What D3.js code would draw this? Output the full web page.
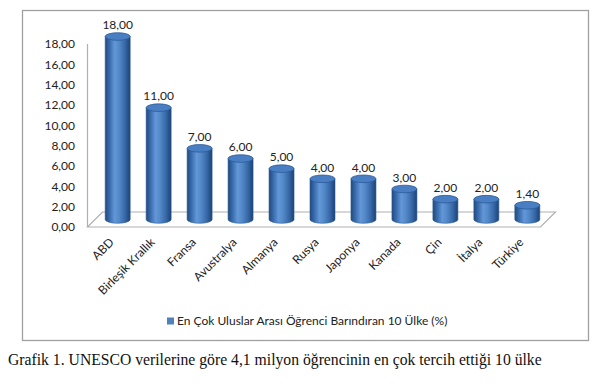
<!DOCTYPE html>
<html><head><meta charset="utf-8">
<script src="https://cdn.jsdelivr.net/npm/d3@7"></script>
<style>
body{margin:0;background:#fff;}
svg{display:block;}
</style></head>
<body>
<svg id="c" width="600" height="391"></svg>
<script>
const categories = ["ABD","Birleşik Krallık","Fransa","Avustralya","Almanya","Rusya","Japonya","Kanada","Çin","İtalya","Türkiye"];
const values = [18,11,7,6,5,4,4,3,2,2,1.4];
const yTicks = [0,2,4,6,8,10,12,14,16,18];
const legendLabel = "En Çok Uluslar Arası Öğrenci Barındıran 10 Ülke (%)";
const caption = "Grafik 1. UNESCO verilerine göre 4,1 milyon öğrencinin en çok tercih ettiği 10 ülke";

const svg = d3.select("#c");
const font = "Lato, 'Open Sans', sans-serif";
const fs = 12;
const fmt = v => d3.format(".2f")(v).replace(".", ",");

// frame
svg.append("rect").attr("x",22.5).attr("y",10.5).attr("width",566).attr("height",330)
  .attr("fill","#fff").attr("stroke","#a0a0a0").attr("stroke-width",1.3);

const d = 7.5; // half depth offset
const y = d3.scaleLinear().domain([0,18]).range([227,44]);
const x = d3.scaleBand().domain(categories).range([97,548]).paddingInner(0.39).paddingOuter(0.2);

// floor
const x0 = 97 - 2, x1 = 548;
svg.append("path")
  .attr("d",`M${x0-d},${y(0)} L${x1-d},${y(0)} L${x1+d},${y(0)-2*d} L${x0+d},${y(0)-2*d} Z`)
  .attr("fill","none").attr("stroke","#b0b0b0").attr("stroke-width",1.2);
// value axis line
svg.append("line").attr("x1",x0-d).attr("x2",x0-d).attr("y1",y(18)).attr("y2",y(0))
  .attr("stroke","#b0b0b0").attr("stroke-width",1.2);

// y tick labels
svg.append("g").selectAll("text").data(yTicks).join("text")
  .attr("x",75).attr("y",t=>y(t)).attr("dy","0.35em").attr("text-anchor","end")
  .attr("font-family",font).attr("font-size",fs).attr("fill","#222").text(fmt);

// gradient
const defs = svg.append("defs");
const g = defs.append("linearGradient").attr("id","cyl").attr("x1","0").attr("x2","1").attr("y1","0").attr("y2","0");
[[0,"#21497f"],[0.18,"#3a6dae"],[0.38,"#6397d8"],[0.55,"#548ac9"],[0.8,"#3667a6"],[1,"#1c4274"]]
  .forEach(([o,c])=>g.append("stop").attr("offset",o).attr("stop-color",c));

const rx = x.bandwidth()/2, ry = 3.8;
const bars = svg.append("g").selectAll("g").data(categories).join("g");
bars.each(function(c,i){
  const v = values[i];
  const cx = x(c) + rx;
  const yb = y(0) - d;
  const yt = y(v) - d;
  const gg = d3.select(this);
  gg.append("path")
    .attr("d",`M${cx-rx},${yt} L${cx-rx},${yb} A${rx},${ry} 0 0 0 ${cx+rx},${yb} L${cx+rx},${yt} Z`)
    .attr("fill","url(#cyl)").attr("stroke","#2a5a96").attr("stroke-width",0.6);
  gg.append("ellipse").attr("cx",cx).attr("cy",yt).attr("rx",rx).attr("ry",ry)
    .attr("fill","#4a7ec3").attr("stroke","#2b5b98").attr("stroke-width",0.8);
  gg.append("text").attr("x",cx).attr("y",yt-ry-3.5).attr("text-anchor","middle")
    .attr("font-family",font).attr("font-size",fs).attr("fill","#222").text(fmt(v));
  gg.append("text").attr("transform",`translate(${cx-3},${y(0)+16}) rotate(-45)`)
    .attr("text-anchor","end").attr("font-family",font).attr("font-size",fs).attr("fill","#222").text(c);
});

// legend
svg.append("rect").attr("x",167).attr("y",317.5).attr("width",7).attr("height",7).attr("fill","#4f81bd");
svg.append("text").attr("x",177).attr("y",325).attr("font-family",font).attr("font-size",fs)
  .attr("fill","#222").text(legendLabel);

// caption
svg.append("text").attr("x",8).attr("y",365).attr("font-family","'Liberation Serif', 'Times New Roman', serif")
  .attr("font-size",15.7).attr("fill","#111").text(caption);
</script>
</body></html>
